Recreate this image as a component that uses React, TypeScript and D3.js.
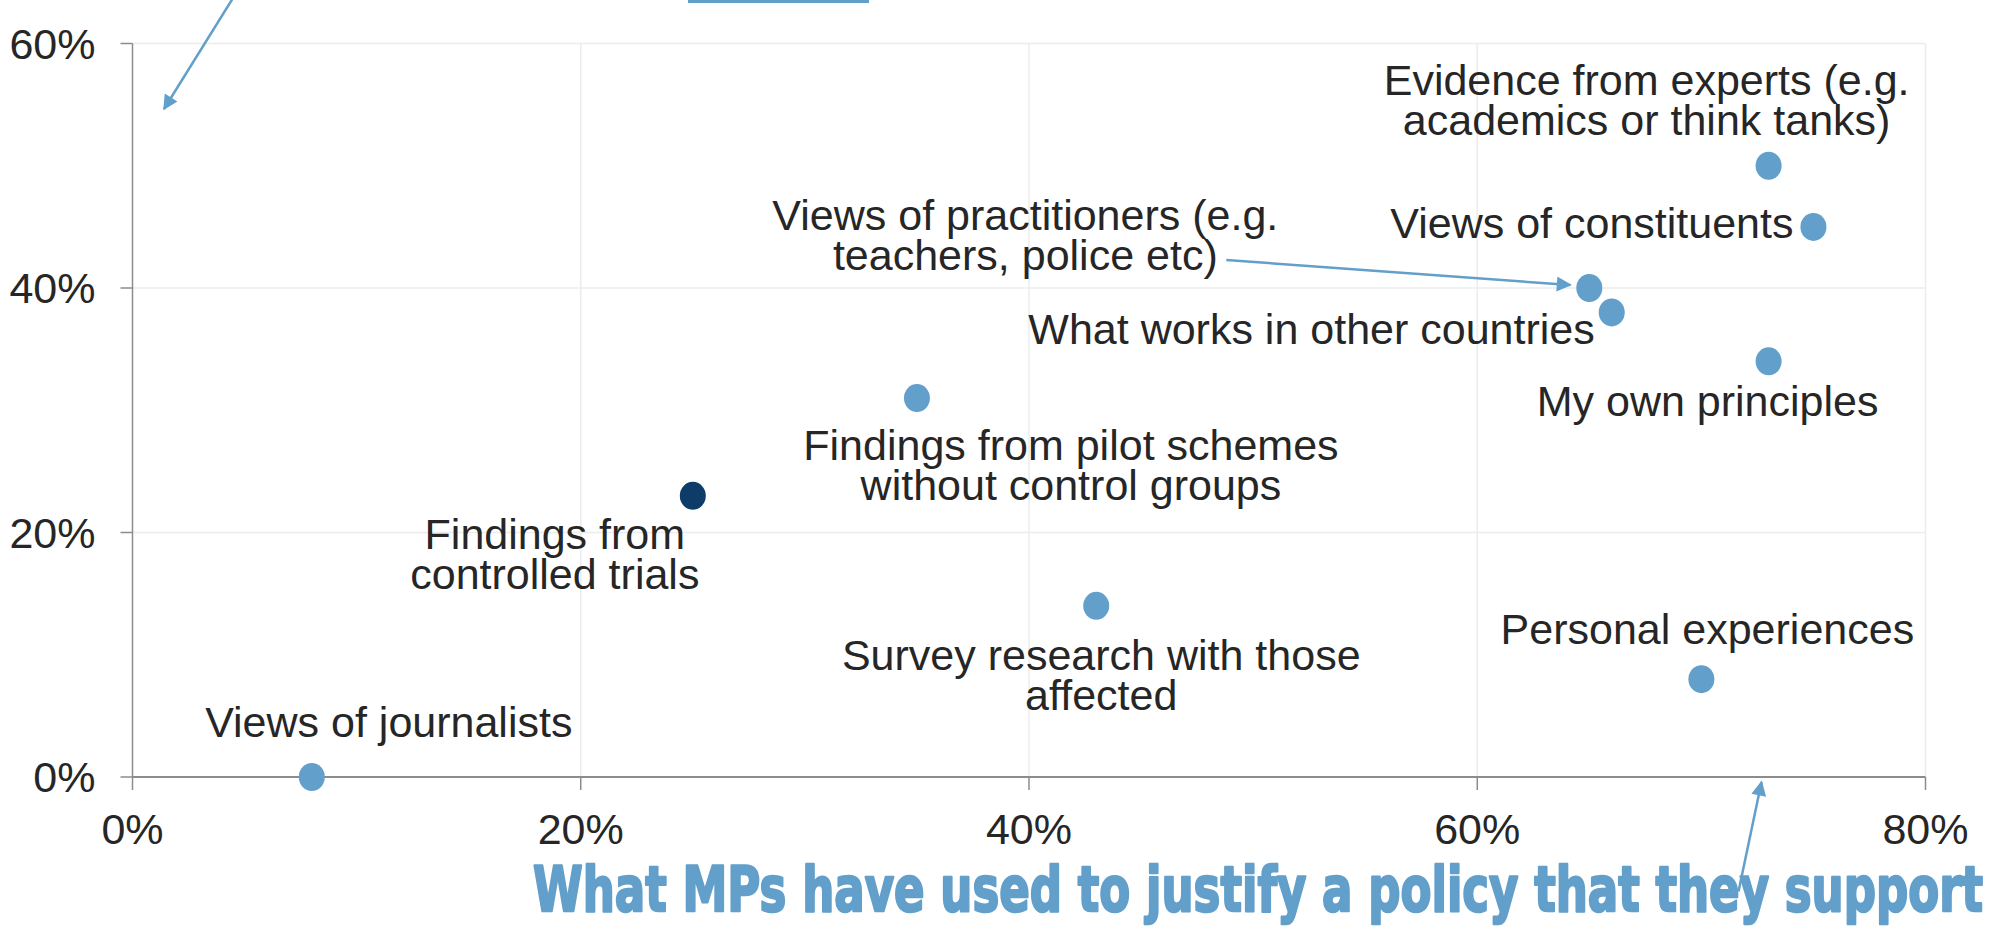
import React from "react";
import * as d3 from "d3";

// ---- data ----
const sources: string[][] = [
  ["Evidence from experts (e.g.", "academics or think tanks)"],
  ["Views of constituents"],
  ["Views of practitioners (e.g.", "teachers, police etc)"],
  ["What works in other countries"],
  ["My own principles"],
  ["Findings from pilot schemes", "without control groups"],
  ["Findings from", "controlled trials"],
  ["Survey research with those", "affected"],
  ["Personal experiences"],
  ["Views of journalists"],
];
const usedToJustify: number[] = [73, 75, 65, 66, 73, 35, 25, 43, 70, 8];
const secondMeasure: number[] = [50, 45, 40, 38, 34, 31, 23, 14, 8, 0];
const highlighted: boolean[] = [false, false, false, false, false, false, true, false, false, false];
const xTicks: number[] = [0, 20, 40, 60, 80];
const yTicks: number[] = [0, 20, 40, 60];
const titleText = "What MPs have used to justify a policy that they support";

// ---- label layout (pixel offsets relative to each point) ----
const labelLayout: { anchor: "start" | "middle" | "end"; dx: number; dy: number }[] = [
  { anchor: "middle", dx: -122, dy: -71 },
  { anchor: "end", dx: -20, dy: 11 },
  { anchor: "middle", dx: -564, dy: -58 },
  { anchor: "end", dx: -17, dy: 32 },
  { anchor: "middle", dx: -61, dy: 55 },
  { anchor: "middle", dx: 154, dy: 62 },
  { anchor: "middle", dx: -138, dy: 53 },
  { anchor: "middle", dx: 5, dy: 64 },
  { anchor: "middle", dx: 6, dy: -35 },
  { anchor: "middle", dx: 77, dy: -40 },
];

const W = 1997;
const H = 930;
const BLUE = "#629fca";
const DARK = "#0e3c68";
const TEXT = "#262626";
const FONT = "'Liberation Sans', Arial, sans-serif";
const FS = 43;
const LINE = 40;

export default function App() {
  const x = d3.scaleLinear().domain([0, 80]).range([132.5, 1925.5]);
  const y = d3.scaleLinear().domain([0, 60]).range([777, 43.5]);
  const x0 = x(0);
  const y0 = y(0);

  const pts = usedToJustify.map((v, i) => ({
    px: x(v),
    py: y(secondMeasure[i]),
    lines: sources[i],
    hl: highlighted[i],
    lay: labelLayout[i],
  }));

  const prac = pts[2];

  return (
    <svg
      width={W}
      height={H}
      style={{ position: "absolute", left: 0, top: 0, background: "#fff" }}
      fontFamily={FONT}
    >
      <defs>
        <marker id="ah" viewBox="0 0 10 10" refX="9" refY="5" markerWidth="6.5" markerHeight="6" orient="auto-start-reverse" markerUnits="strokeWidth">
          <path d="M0,0 L10,5 L0,10 z" fill={BLUE} />
        </marker>
      </defs>
      <rect x={0} y={0} width={W} height={H} fill="#fff" />

      {/* grid */}
      {xTicks.filter((t) => t > 0).map((t) => (
        <line key={"gx" + t} x1={x(t)} x2={x(t)} y1={y(60)} y2={y0} stroke="#ececec" strokeWidth={1.5} />
      ))}
      {yTicks.filter((t) => t > 0).map((t) => (
        <line key={"gy" + t} x1={x0} x2={x(80)} y1={y(t)} y2={y(t)} stroke="#ececec" strokeWidth={1.5} />
      ))}

      {/* axes */}
      <line x1={x0} x2={x0} y1={y(60)} y2={y0} stroke="#8c8c8c" strokeWidth={1.5} />
      <line x1={x0} x2={x(80)} y1={y0} y2={y0} stroke="#8c8c8c" strokeWidth={2} />
      {yTicks.map((t) => (
        <line key={"ty" + t} x1={x0 - 12} x2={x0} y1={y(t)} y2={y(t)} stroke="#8c8c8c" strokeWidth={1.5} />
      ))}
      {xTicks.map((t) => (
        <line key={"tx" + t} x1={x(t)} x2={x(t)} y1={y0} y2={y0 + 13} stroke="#8c8c8c" strokeWidth={1.5} />
      ))}
      {yTicks.map((t) => (
        <text key={"ly" + t} x={x0 - 37} y={y(t)} dy="0.36em" textAnchor="end" fontSize={FS} fill={TEXT}>
          {t}%
        </text>
      ))}
      {xTicks.map((t) => (
        <text key={"lx" + t} x={x(t)} y={y0 + 67} textAnchor="middle" fontSize={FS} fill={TEXT}>
          {t}%
        </text>
      ))}

      {/* points */}
      {pts.map((p, i) => (
        <ellipse key={"pt" + i} cx={p.px} cy={p.py} rx={13} ry={14} fill={p.hl ? DARK : BLUE} />
      ))}

      {/* labels */}
      {pts.map((p, i) => (
        <text
          key={"lab" + i}
          x={p.px + p.lay.dx}
          y={p.py + p.lay.dy}
          textAnchor={p.lay.anchor}
          fontSize={FS}
          fill={TEXT}
        >
          {p.lines.map((l, j) => (
            <tspan key={j} x={p.px + p.lay.dx} dy={j === 0 ? 0 : LINE}>
              {l}
            </tspan>
          ))}
        </text>
      ))}

      {/* practitioners leader arrow */}
      <line
        x1={prac.px - 363}
        y1={prac.py - 28}
        x2={prac.px - 19}
        y2={prac.py - 3}
        stroke={BLUE}
        strokeWidth={2.5}
        markerEnd="url(#ah)"
      />

      {/* annotation arrows */}
      <line x1={233} y1={-2} x2={164} y2={109} stroke={BLUE} strokeWidth={2.5} markerEnd="url(#ah)" />
      <line x1={688} y1={1.5} x2={869} y2={1.5} stroke={BLUE} strokeWidth={3} />
      <line x1={1738.5} y1={891.5} x2={1761.5} y2={782} stroke={BLUE} strokeWidth={2.5} markerEnd="url(#ah)" />

      {/* title */}
      <text
        x={533}
        y={911}
        fontSize={63}
        fontWeight="bold"
        fontFamily="'DejaVu Sans', sans-serif"
        fill={BLUE}
        stroke={BLUE}
        strokeWidth={2.5}
        strokeLinejoin="round"
        textLength={1450}
        lengthAdjust="spacingAndGlyphs"
      >
        {titleText}
      </text>
    </svg>
  );
}
